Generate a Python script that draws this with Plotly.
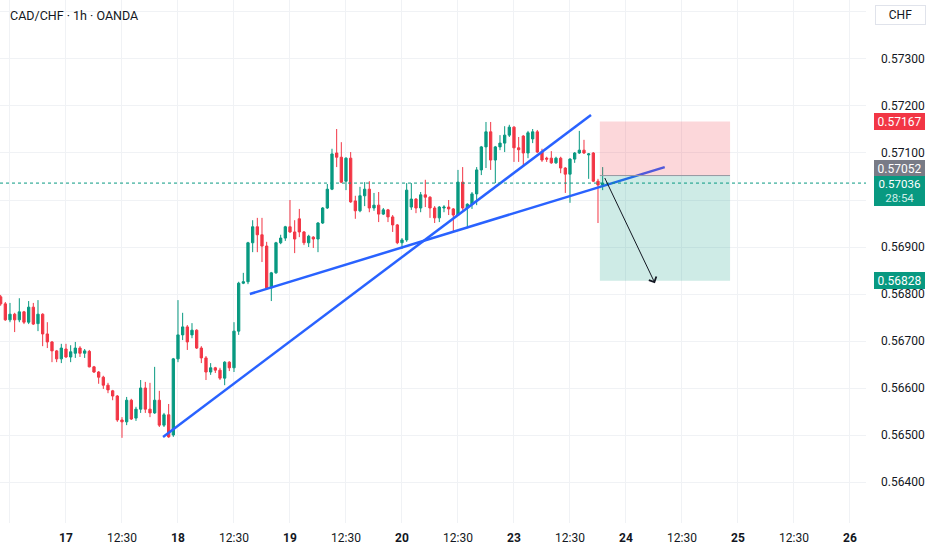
import plotly.graph_objects as go

# CAD/CHF 1h candles; x is the candle number, 0 = the "17" 00:00 bar
candle_idx = list(range(-14, 116))

opens = [
    0.56794, 0.56779, 0.56745, 0.56757, 0.56745, 0.56762, 0.56740, 0.56772, 0.56737, 0.56757,
    0.56715, 0.56698, 0.56679, 0.56662, 0.56683, 0.56666, 0.56674, 0.56685, 0.56674, 0.56678,
    0.56645, 0.56634, 0.56623, 0.56606, 0.56594, 0.56583, 0.56532, 0.56528, 0.56574, 0.56536,
    0.56555, 0.56600, 0.56555, 0.56547, 0.56574, 0.56521, 0.56543, 0.56500, 0.56662, 0.56713,
    0.56730, 0.56713, 0.56723, 0.56685, 0.56664, 0.56634, 0.56643, 0.56638, 0.56621, 0.56655,
    0.56643, 0.56721, 0.56823, 0.56826, 0.56909, 0.56943, 0.56926, 0.56902, 0.56813, 0.56845,
    0.56909, 0.56919, 0.56943, 0.56932, 0.56960, 0.56932, 0.56909, 0.56921, 0.56917, 0.56951,
    0.56983, 0.57023, 0.57100, 0.57091, 0.57040, 0.57089, 0.56998, 0.56977, 0.57009, 0.57023,
    0.56983, 0.56989, 0.56970, 0.56979, 0.56964, 0.56947, 0.56909, 0.56915, 0.56985, 0.57002,
    0.56983, 0.57011, 0.57006, 0.56983, 0.56962, 0.56983, 0.56985, 0.56981, 0.56968, 0.57038,
    0.56983, 0.56991, 0.57013, 0.57064, 0.57113, 0.57145, 0.57085, 0.57113, 0.57121, 0.57138,
    0.57155, 0.57111, 0.57136, 0.57100, 0.57130, 0.57145, 0.57102, 0.57089, 0.57089, 0.57079,
    0.57089, 0.57068, 0.57055, 0.57087, 0.57100, 0.57106, 0.57096, 0.57100, 0.57040, 0.57032,
]
highs = [
    0.56798, 0.56783, 0.56781, 0.56760, 0.56791, 0.56764, 0.56785, 0.56781, 0.56787, 0.56759,
    0.56740, 0.56700, 0.56681, 0.56694, 0.56694, 0.56691, 0.56698, 0.56689, 0.56683, 0.56681,
    0.56647, 0.56636, 0.56626, 0.56611, 0.56596, 0.56585, 0.56538, 0.56581, 0.56577, 0.56560,
    0.56617, 0.56613, 0.56611, 0.56645, 0.56594, 0.56547, 0.56566, 0.56664, 0.56787, 0.56760,
    0.56734, 0.56738, 0.56725, 0.56689, 0.56668, 0.56653, 0.56645, 0.56643, 0.56657, 0.56657,
    0.56740, 0.56826, 0.56845, 0.56911, 0.56957, 0.56962, 0.56962, 0.56911, 0.56847, 0.56911,
    0.56926, 0.56945, 0.57000, 0.56957, 0.56981, 0.56934, 0.56926, 0.56923, 0.56953, 0.56985,
    0.57034, 0.57109, 0.57151, 0.57123, 0.57091, 0.57102, 0.57009, 0.57028, 0.57038, 0.57040,
    0.57015, 0.57017, 0.56983, 0.56981, 0.56968, 0.56949, 0.56919, 0.57036, 0.57036, 0.57004,
    0.57017, 0.57043, 0.57008, 0.56987, 0.56987, 0.56989, 0.57000, 0.56983, 0.57064, 0.57070,
    0.56993, 0.57017, 0.57070, 0.57115, 0.57166, 0.57166, 0.57115, 0.57138, 0.57157, 0.57160,
    0.57157, 0.57134, 0.57138, 0.57147, 0.57151, 0.57149, 0.57109, 0.57092, 0.57104, 0.57092,
    0.57092, 0.57070, 0.57089, 0.57102, 0.57147, 0.57128, 0.57100, 0.57102, 0.57045, 0.57070,
]
lows = [
    0.56775, 0.56743, 0.56740, 0.56719, 0.56740, 0.56736, 0.56736, 0.56734, 0.56721, 0.56689,
    0.56685, 0.56655, 0.56655, 0.56653, 0.56664, 0.56655, 0.56664, 0.56666, 0.56664, 0.56644,
    0.56632, 0.56609, 0.56598, 0.56589, 0.56574, 0.56528, 0.56494, 0.56521, 0.56532, 0.56530,
    0.56547, 0.56547, 0.56538, 0.56545, 0.56517, 0.56517, 0.56494, 0.56496, 0.56655, 0.56702,
    0.56681, 0.56706, 0.56683, 0.56653, 0.56617, 0.56628, 0.56632, 0.56617, 0.56606, 0.56636,
    0.56634, 0.56713, 0.56821, 0.56821, 0.56889, 0.56889, 0.56868, 0.56809, 0.56785, 0.56843,
    0.56906, 0.56913, 0.56930, 0.56887, 0.56921, 0.56904, 0.56900, 0.56898, 0.56889, 0.56949,
    0.56981, 0.57021, 0.57070, 0.57036, 0.57021, 0.56994, 0.56960, 0.56974, 0.56987, 0.56974,
    0.56977, 0.56953, 0.56968, 0.56953, 0.56932, 0.56906, 0.56896, 0.56911, 0.56979, 0.56972,
    0.56974, 0.56985, 0.56962, 0.56951, 0.56953, 0.56974, 0.56968, 0.56932, 0.56966, 0.56979,
    0.56940, 0.56981, 0.56989, 0.57053, 0.57068, 0.57064, 0.57036, 0.57106, 0.57102, 0.57134,
    0.57081, 0.57081, 0.57074, 0.57089, 0.57121, 0.57100, 0.57081, 0.57081, 0.57077, 0.57077,
    0.57057, 0.57015, 0.56994, 0.57079, 0.57098, 0.57098, 0.57045, 0.57038, 0.56951, 0.57021,
]
closes = [
    0.56779, 0.56745, 0.56757, 0.56745, 0.56762, 0.56740, 0.56772, 0.56736, 0.56757, 0.56715,
    0.56698, 0.56679, 0.56662, 0.56685, 0.56666, 0.56677, 0.56685, 0.56674, 0.56679, 0.56645,
    0.56634, 0.56623, 0.56606, 0.56596, 0.56583, 0.56532, 0.56528, 0.56574, 0.56534, 0.56555,
    0.56600, 0.56555, 0.56547, 0.56574, 0.56521, 0.56543, 0.56496, 0.56662, 0.56713, 0.56730,
    0.56698, 0.56723, 0.56685, 0.56664, 0.56634, 0.56643, 0.56638, 0.56621, 0.56655, 0.56643,
    0.56721, 0.56823, 0.56826, 0.56909, 0.56943, 0.56926, 0.56902, 0.56813, 0.56845, 0.56909,
    0.56919, 0.56943, 0.56932, 0.56917, 0.56932, 0.56909, 0.56923, 0.56917, 0.56951, 0.56983,
    0.57023, 0.57098, 0.57091, 0.57038, 0.57089, 0.56996, 0.56977, 0.57009, 0.57023, 0.56983,
    0.56989, 0.56970, 0.56979, 0.56964, 0.56947, 0.56909, 0.56915, 0.57021, 0.57002, 0.56983,
    0.57011, 0.57006, 0.56983, 0.56962, 0.56985, 0.56985, 0.56981, 0.56968, 0.57038, 0.56983,
    0.56991, 0.57013, 0.57064, 0.57113, 0.57145, 0.57085, 0.57113, 0.57121, 0.57138, 0.57155,
    0.57111, 0.57107, 0.57100, 0.57143, 0.57145, 0.57102, 0.57085, 0.57087, 0.57079, 0.57089,
    0.57068, 0.57055, 0.57087, 0.57100, 0.57106, 0.57100, 0.57098, 0.57040, 0.57032, 0.57036,
]

# time axis labels
x_tick_idx = [-12, 0, 12, 24, 36, 48, 60, 72, 84, 96, 108, 120, 132, 144, 156, 168]
x_tick_text = ["12:30", "17", "12:30", "18", "12:30", "19", "12:30", "20",
               "12:30", "23", "12:30", "24", "12:30", "25", "12:30", "26"]

# price axis
price_ticks = [0.564, 0.565, 0.566, 0.567, 0.568, 0.569, 0.570, 0.571, 0.572, 0.573, 0.574]
price_tick_text = ["0.56400", "0.56500", "0.56600", "0.56700", "0.56800", "0.56900",
                   "", "0.57100", "0.57200", "0.57300", ""]

# drawings: two trend lines (candle no., price)
trend1_x = [20.8, 112.5]
trend1_y = [0.56496, 0.57181]
trend2_x = [39.4, 128.3]
trend2_y = [0.56800, 0.57070]

# short position tool
pos_span = [114.4, 142.3]
stop_price = 0.57167
entry_price = 0.57052
target_price = 0.56828
arrow_from = [115.3, 0.57050]
arrow_to = [126.2, 0.56823]

last_price = 0.57036
countdown = "28:54"

UP = "#089981"
DOWN = "#F23645"
GRID = "#f0f2f5"
TEXT = "#131722"
FONT = "Roboto, Liberation Sans, sans-serif"

fig = go.Figure()

fig.add_trace(go.Candlestick(
    x=candle_idx, open=opens, high=highs, low=lows, close=closes,
    increasing=dict(line=dict(color=UP, width=1), fillcolor=UP),
    decreasing=dict(line=dict(color=DOWN, width=1), fillcolor=DOWN),
    whiskerwidth=0, showlegend=False, hoverinfo="skip",
))

for tx, ty in [(trend1_x, trend1_y), (trend2_x, trend2_y)]:
    fig.add_trace(go.Scatter(
        x=tx, y=ty, mode="lines", line=dict(color="#2962FF", width=2.5),
        showlegend=False, hoverinfo="skip",
    ))

# risk / reward boxes
fig.add_shape(type="rect", xref="x", yref="y", x0=pos_span[0], x1=pos_span[1],
              y0=entry_price, y1=stop_price, line=dict(width=0),
              fillcolor="rgba(242,54,69,0.2)")
fig.add_shape(type="rect", xref="x", yref="y", x0=pos_span[0], x1=pos_span[1],
              y0=target_price, y1=entry_price, line=dict(width=0),
              fillcolor="rgba(8,153,129,0.2)")
fig.add_shape(type="line", xref="x", yref="y", x0=pos_span[0], x1=pos_span[1],
              y0=entry_price, y1=entry_price, line=dict(color="#9598a1", width=1))

# last price line
fig.add_shape(type="line", xref="paper", yref="y", x0=0, x1=1,
              y0=last_price, y1=last_price, line=dict(color=UP, width=1, dash="dot"))

fig.add_annotation(x=arrow_to[0], y=arrow_to[1], ax=arrow_from[0], ay=arrow_from[1],
                   xref="x", yref="y", axref="x", ayref="y", text="",
                   showarrow=True, arrowhead=4, arrowsize=1.6, arrowwidth=1,
                   arrowcolor="#131722")

# title
fig.add_annotation(xref="paper", yref="paper", x=0.009, y=0.971, xanchor="left",
                   yanchor="middle", showarrow=False, text="CAD/CHF · 1h · OANDA",
                   font=dict(family=FONT, size=12.5, color=TEXT))

# currency box
fig.add_annotation(xref="paper", yref="paper", x=1.0404, y=0.971, xanchor="center",
                   yanchor="middle", showarrow=False, text="CHF",
                   font=dict(family=FONT, size=12, color=TEXT),
                   bgcolor="white", bordercolor="#e0e3eb", borderwidth=1,
                   borderpad=3, width=43, height=12)

# price scale labels
label_x = 1.0095
for price, color, shift in [(stop_price, DOWN, 0), (entry_price, "#787b86", 7),
                            (target_price, UP, 0)]:
    fig.add_annotation(xref="paper", yref="y", x=label_x, y=price, xanchor="left",
                       yanchor="middle", yshift=shift, showarrow=False,
                       text=f"{price:.5f}", font=dict(family=FONT, size=12, color="white"),
                       bgcolor=color, bordercolor=color, borderwidth=1, borderpad=1,
                       width=47, height=13)
fig.add_annotation(xref="paper", yref="y", x=label_x, y=last_price, xanchor="left",
                   yanchor="top", yshift=7, showarrow=False,
                   text=f"{last_price:.5f}<br><span style='color:#cdeee8'>{countdown}</span>",
                   font=dict(family=FONT, size=11.5, color="white"),
                   bgcolor=UP, bordercolor=UP, borderwidth=1, borderpad=1,
                   width=47, height=26)

fig.update_layout(
    width=932, height=550,
    margin=dict(l=0, r=66, t=0, b=27),
    paper_bgcolor="white", plot_bgcolor="white",
    font=dict(family=FONT, color=TEXT),
    showlegend=False,
    xaxis=dict(
        range=[-14.14, 171.43], rangeslider=dict(visible=False),
        tickvals=x_tick_idx,
        ticktext=[t if ":" in t else f"<b>{t}</b>" for t in x_tick_text],
        showgrid=True, gridcolor=GRID, zeroline=False, showline=False, ticks="",
        tickfont=dict(family=FONT, size=12, color=TEXT), ticklabelstandoff=6,
    ),
    yaxis=dict(
        side="right", range=[0.563128, 0.574255],
        tickvals=price_ticks, ticktext=price_tick_text,
        showgrid=True, gridcolor=GRID, zeroline=False, showline=False, ticks="",
        tickfont=dict(family=FONT, size=12, color=TEXT), ticklabelstandoff=14,
    ),
)

# page has a default 8px body margin; drop it so the figure fills the window
fig.write_html("out.html", config={"displayModeBar": False},
               post_script="document.body.style.margin='0';")
